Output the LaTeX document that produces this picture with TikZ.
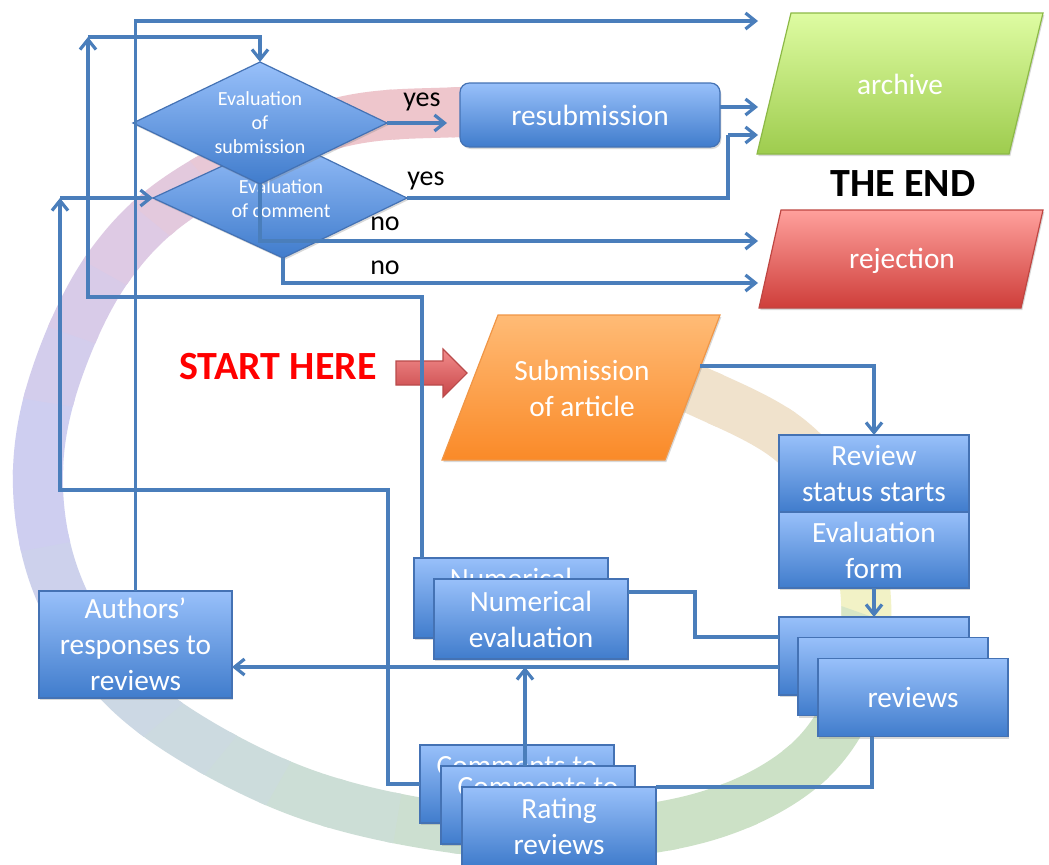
\documentclass[tikz,border=0pt]{standalone}
\usepackage{fontspec}
\setmainfont{Carlito}
\usetikzlibrary{arrows.meta,shadows,calc}
\definecolor{linkc}{RGB}{74,126,187}
\definecolor{bordc}{RGB}{68,114,180}
\definecolor{btop}{RGB}{152,192,250}
\definecolor{bbot}{RGB}{64,124,204}
\definecolor{gtop}{RGB}{222,252,162}
\definecolor{gbot}{RGB}{158,204,78}
\definecolor{gbord}{RGB}{140,185,70}
\definecolor{rtop}{RGB}{255,160,156}
\definecolor{rbot}{RGB}{206,62,58}
\definecolor{rbord}{RGB}{190,70,66}
\definecolor{otop}{RGB}{255,187,118}
\definecolor{obot}{RGB}{250,138,40}
\definecolor{obord}{RGB}{240,150,70}
\definecolor{atop}{RGB}{242,140,140}
\definecolor{abot}{RGB}{200,70,72}
\definecolor{abord}{RGB}{185,75,75}
\definecolor{pinkc}{RGB}{238,198,204}
\definecolor{mauvec}{RGB}{222,202,228}
\definecolor{lavc}{RGB}{206,206,240}
\definecolor{bluegc}{RGB}{204,216,228}
\definecolor{greygc}{RGB}{204,222,214}
\definecolor{greenc}{RGB}{204,225,198}
\definecolor{yellowc}{RGB}{242,242,198}
\definecolor{tanc}{RGB}{240,226,204}
\tikzset{
  link/.style={draw=linkc, line width=2.4pt},
  arr/.style={-{Straight Barb[length=7.5pt,width=12pt]}},
  shad/.style={drop shadow={opacity=0.3,shadow xshift=1pt,shadow yshift=-1.5pt}},
  box/.style={shad, draw=bordc, line width=0.9pt, top color=btop, bottom color=bbot, text=white, align=center, inner sep=0pt, outer sep=0pt, font=\fontsize{22}{27}\selectfont},
  dshape/.style={shad, draw=bordc, line width=0.9pt, top color=btop, bottom color=bbot},
  dtext/.style={text=white, align=center, inner sep=0pt, font=\fontsize{15}{18}\selectfont},
  ptext/.style={text=white, align=center, inner sep=0pt, font=\fontsize{22}{27}\selectfont},
  lbl/.style={text=black, inner sep=0pt, font=\fontsize{21}{25}\selectfont},
  ttl/.style={inner sep=0pt, font=\bfseries\fontsize{30}{36}\selectfont},
  ringline/.style={line width=37.5pt},
}
\def\ringpath{plot[smooth, tension=0.6] coordinates {(620,362) (700,392) (790,440) (845,510) (866,600) (855,690) (805,765) (710,815) (580,835) (440,826) (300,792) (175,728) (100,660) (52,570) (38,470) (58,370) (110,265) (190,190) (330,125) (460,112) (600,112)}}
\begin{document}
\begin{tikzpicture}[x=0.75pt,y=-0.75pt]
\useasboundingbox (0,0) rectangle (1049,864);
\fill[white] (0,0) rectangle (1049,864);
% background ring
\foreach \a/\col in {-50/tanc,-40/tanc,-30/tanc,-20/tanc,-10/tanc,0/tanc!50!yellowc,10/yellowc,20/yellowc!30!greenc,30/greenc,40/greenc,50/greenc,60/greenc,70/greenc,80/greenc!70!greygc,90/greenc!40!greygc,100/greygc,110/greygc,120/greygc!60!bluegc,130/greygc!30!bluegc,140/bluegc,150/bluegc!60!lavc,160/bluegc!30!lavc,170/lavc,180/lavc,190/lavc!70!mauvec,200/lavc!35!mauvec,210/mauvec,220/mauvec!70!pinkc,230/mauvec!40!pinkc,240/pinkc,250/pinkc,260/pinkc,270/pinkc,280/pinkc,290/pinkc,300/pinkc}{
  \begin{scope}
    \clip (455,470) -- ({455+2000*cos(\a-0.6)},{470+2000*sin(\a-0.6)}) -- ({455+2000*cos(\a+10.6)},{470+2000*sin(\a+10.6)}) -- cycle;
    \draw[ringline, draw=\col] \ringpath;
  \end{scope}
}
% diamonds
\path[dshape] (283,138) -- (407,198) -- (283,258) -- (153,198) -- cycle;
\node[dtext] (d2) at (281,199) {Evaluation\\of comment};
\path[dshape] (260,62) -- (387,123) -- (260,184) -- (133,123) -- cycle;
\node[dtext] (d1) at (260,123) {Evaluation\\of\\submission};
\coordinate (d1N) at (260,62);
\coordinate (d1E) at (387,123);
\coordinate (d1S) at (260,184);
\coordinate (d2E) at (407,198);
\coordinate (d2S) at (283,258);
\coordinate (d2W) at (153,198);
% resubmission
\node[box, minimum width=195pt, minimum height=48pt, rounded corners=7pt] (resub) at (590,115) {resubmission};
% archive / rejection / submission
\path[shad, draw=gbord, line width=0.9pt, top color=gtop, bottom color=gbot] (791,13) -- (1043,13) -- (1009,154) -- (757,154) -- cycle;
\node[ptext] (archive) at (900,84) {archive};
\path[shad, draw=rbord, line width=0.9pt, top color=rtop, bottom color=rbot] (781,210) -- (1043,210) -- (1021,308) -- (759,308) -- cycle;
\node[ptext] (reject) at (902,261) {rejection};
\path[shad, draw=obord, line width=0.9pt, top color=otop, bottom color=obot] (498,315) -- (720,315) -- (665,460) -- (442,460) -- cycle;
\node[ptext] (submit) at (582,388) {Submission\\of article};
\node[ttl] (theend) at (903,184) {THE END};
\node[ttl, text={rgb,255:red,255;green,0;blue,0}] (start) at (278,367) {START HERE};
\path[draw=abord, line width=0.8pt, top color=atop, bottom color=abot] (396,361) -- (443,361) -- (443,349) -- (467,373) -- (443,397) -- (443,385) -- (396,385) -- cycle;
\coordinate (startarrow) at (467,373);
% review chain
\node[box, minimum width=142.5pt, minimum height=57.75pt] (review) at (874,473.5) {Review\\status starts};
\node[box, minimum width=142.5pt, minimum height=57pt] (evalform) at (874,550) {Evaluation\\form};
\node[box, minimum width=142.5pt, minimum height=58.5pt] (rev1) at (874,656) {};
\node[box, minimum width=142.5pt, minimum height=58.5pt] (rev2) at (893,676.5) {};
\node[box, minimum width=142.5pt, minimum height=58.5pt] (rev3) at (913,697.5) {reviews};
% authors
\node[box, minimum width=144.75pt, minimum height=80.25pt] (authors) at (135.5,644.5) {Authors’\\responses to\\reviews};
% numerical
\node[box, minimum width=145.5pt, minimum height=60pt] (numb) at (511,598) {};
\node[ptext] (numbtxt) at (511,578) {Numerical};
\node[box, minimum width=145.5pt, minimum height=60pt] (numf) at (531,619) {Numerical\\evaluation};
% comments / rating
\node[box, minimum width=145.5pt, minimum height=58.5pt] (comA) at (517,784) {};
\node[ptext] (comAtxt) at (517,766) {Comments to};
\node[box, minimum width=145.5pt, minimum height=58.5pt] (comB) at (538,805) {};
\node[ptext] (comBtxt) at (538,787) {Comments to};
\node[box, minimum width=145.5pt, minimum height=59.25pt] (rating) at (559,826.5) {Rating\\reviews};
% coordinates for connectors
\coordinate (arcW1) at (758,21);
\coordinate (arcW2) at (758,107);
\coordinate (arcW3) at (758,135);
\coordinate (rejW1) at (758,241);
\coordinate (rejW2) at (758,283);
\coordinate (resubin) at (447,123);
\coordinate (yesturn) at (728,135);
\coordinate (numbT) at (422,558);
\coordinate (cA) at (88,297);
\coordinate (cB) at (88,37);
\coordinate (cC) at (388,490);
\coordinate (cD) at (60,490);
\coordinate (cE) at (60,198);
\coordinate (subE) at (700,366);
\coordinate (c695) at (695,592);
\coordinate (revA) at ($(rev1.north west)+(0,50)$);
\coordinate (revB) at (872,737);
\coordinate (comBt) at (525,766);
% connectors
\draw[link,arr] (d1E) -- (resubin);
\draw[link,arr] ($(resub.east)+(0,-8)$) -- (arcW2);
\draw[link] (d2E) -| (yesturn);
\draw[link,arr] (yesturn) -- (arcW3);
\draw[link,arr] (d1S) |- (rejW1);
\draw[link,arr] (d2S) |- (rejW2);
\draw[link,arr] (authors.north) |- (arcW1);
\draw[link,arr] (numbT) |- (cA) -- (cB);
\draw[link,arr] (cB) -| (d1N);
\draw[link,arr] (comA.west) -| (cC) -- (cD) -- (cE);
\draw[link,arr] (cE) -- (d2W);
\draw[link,arr] (subE) -| (review.north);
\draw[link,arr] (evalform.south) -- (rev1.north);
\draw[link] ($(rev1.north west)+(0,20)$) -| (c695) -- ($(numf.north east)+(0,13)$);
\draw[link,arr] (revA) -- (revA -| authors.east);
\draw[link] (revB) |- (rating.north east);
\draw[link,arr] (comBt) -- (comBt |- revA);
% labels
\node[lbl] (yes1) at (422,102) {yes};
\node[lbl] (yes2) at (426,181) {yes};
\node[lbl] (no1) at (385,224) {no};
\node[lbl] (no2) at (385,268) {no};
\end{tikzpicture}
\end{document}
